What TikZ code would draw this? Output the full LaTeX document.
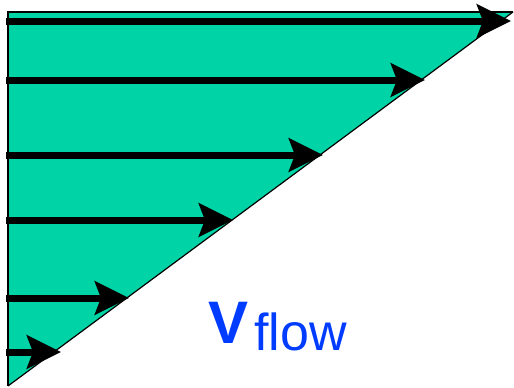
\documentclass[tikz,border=0pt]{standalone}
\usepackage{fontspec}
\setmainfont{Liberation Sans}
\usetikzlibrary{arrows.meta}
\definecolor{flowfill}{RGB}{0,211,166}
\definecolor{flowblue}{RGB}{0,60,255}
\tikzset{
  vel/.style={line width=7pt,-{Stealth[length=34pt 0,width=33pt 0,inset=6pt]}},
  lbl/.style={inner sep=0pt,anchor=base west,text=flowblue}
}
\begin{document}
\begin{tikzpicture}[x=1pt,y=-1pt]
\useasboundingbox (0,0) rectangle (514,388);
\coordinate (tl) at (8,12);
\coordinate (tr) at (513,12);
\coordinate (bl) at (8,386);
\fill[flowfill] (tl) -- (tr) -- (bl) -- cycle;
\draw[line width=1.4pt,line join=miter] (tr) -- (tl) -- (bl);
\draw[line width=1.2pt] (tr) -- (bl);
\foreach \n/\y/\x in {a/21/511,b/80/425,c/155/323,d/220/233,e/298/129,f/352/61}{
  \coordinate (s\n) at (6,\y);
  \coordinate (t\n) at (\x,\y);
  \draw[vel] (s\n) -- (t\n);
}
\node[lbl,font=\fontsize{60}{60}\selectfont\bfseries] (v) at (208,343) {V};
\node[lbl,font=\fontsize{52}{52}\selectfont] (fl) at (254,350) {flow};
\end{tikzpicture}
\end{document}
